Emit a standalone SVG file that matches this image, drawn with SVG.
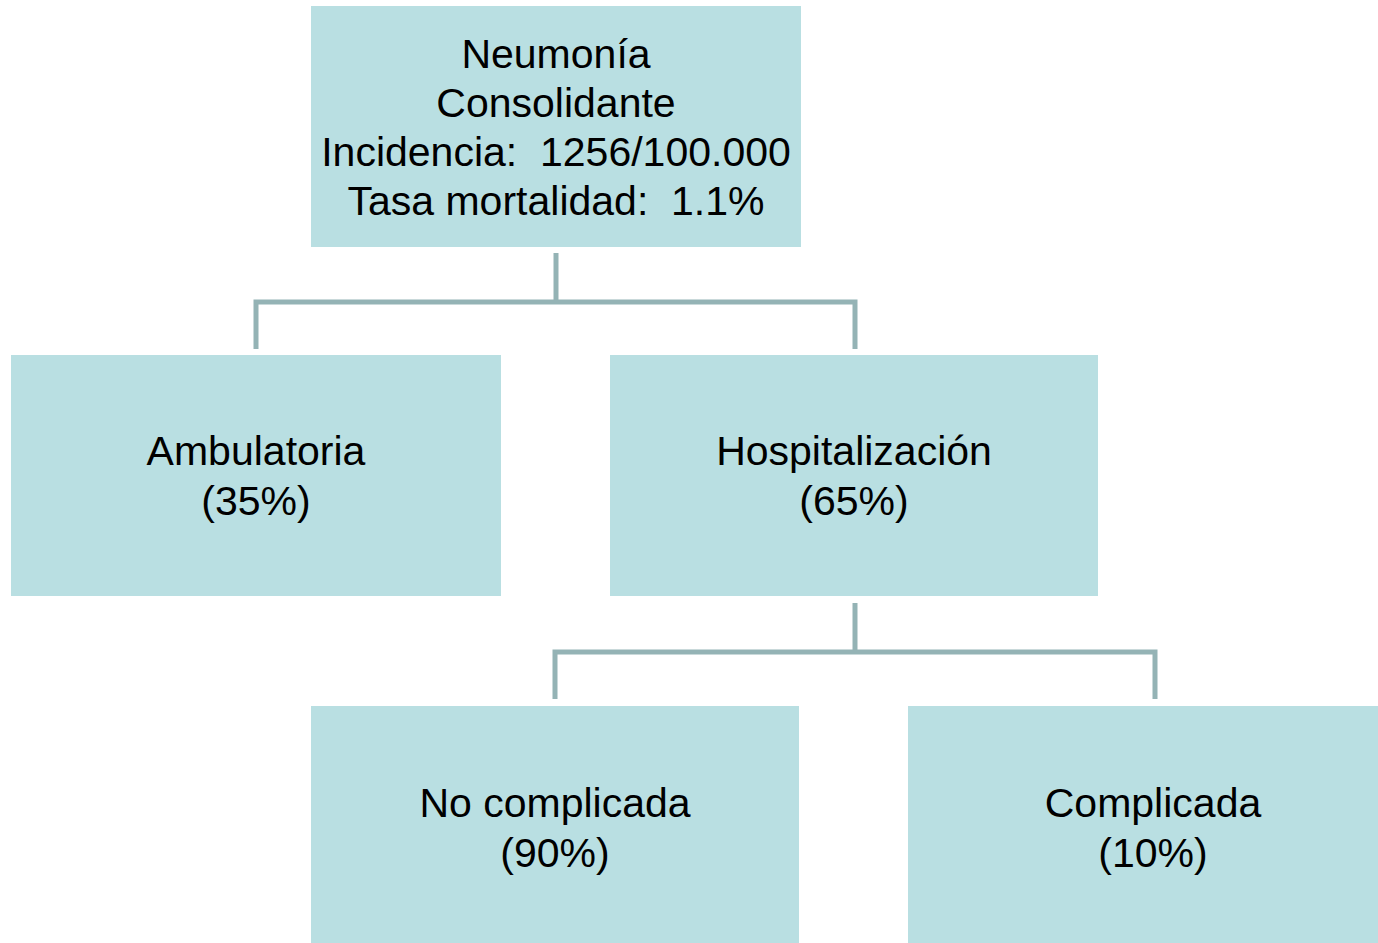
<svg xmlns="http://www.w3.org/2000/svg" width="1378" height="943" viewBox="0 0 1378 943">
<style>
.box{fill:#B9DFE2;}
.t{font-family:"Liberation Sans",Arial,sans-serif;font-size:41px;fill:#000;text-anchor:middle;white-space:pre;}
.c{fill:none;stroke:#94B3B5;stroke-width:5;stroke-linecap:butt;stroke-linejoin:miter;}
</style>
<rect width="1378" height="943" fill="#fff"/>
<g id="connectors">
<path class="c" d="M556 253 V302"/>
<path class="c" d="M256 349 V302 H855 V349"/>
<path class="c" d="M855 603 V652"/>
<path class="c" d="M555 699 V652 H1155 V699"/>
</g>
<g id="node-root">
<rect class="box" x="311" y="6" width="490" height="241"/>
<text class="t" x="556" y="68">Neumonía</text>
<text class="t" x="556" y="117">Consolidante</text>
<text class="t" x="556" y="166">Incidencia:  1256/100.000</text>
<text class="t" x="556" y="215">Tasa mortalidad:  1.1%</text>
</g>
<g id="node-ambulatoria">
<rect class="box" x="11" y="355" width="490" height="241"/>
<text class="t" x="256" y="465">Ambulatoria</text>
<text class="t" x="256" y="515">(35%)</text>
</g>
<g id="node-hospitalizacion">
<rect class="box" x="610" y="355" width="488" height="241"/>
<text class="t" x="854" y="465">Hospitalización</text>
<text class="t" x="854" y="515">(65%)</text>
</g>
<g id="node-nocomplicada">
<rect class="box" x="311" y="706" width="488" height="240"/>
<text class="t" x="555" y="817">No complicada</text>
<text class="t" x="555" y="867">(90%)</text>
</g>
<g id="node-complicada">
<rect class="box" x="908" y="706" width="490" height="240"/>
<text class="t" x="1153" y="817">Complicada</text>
<text class="t" x="1153" y="867">(10%)</text>
</g>
</svg>
